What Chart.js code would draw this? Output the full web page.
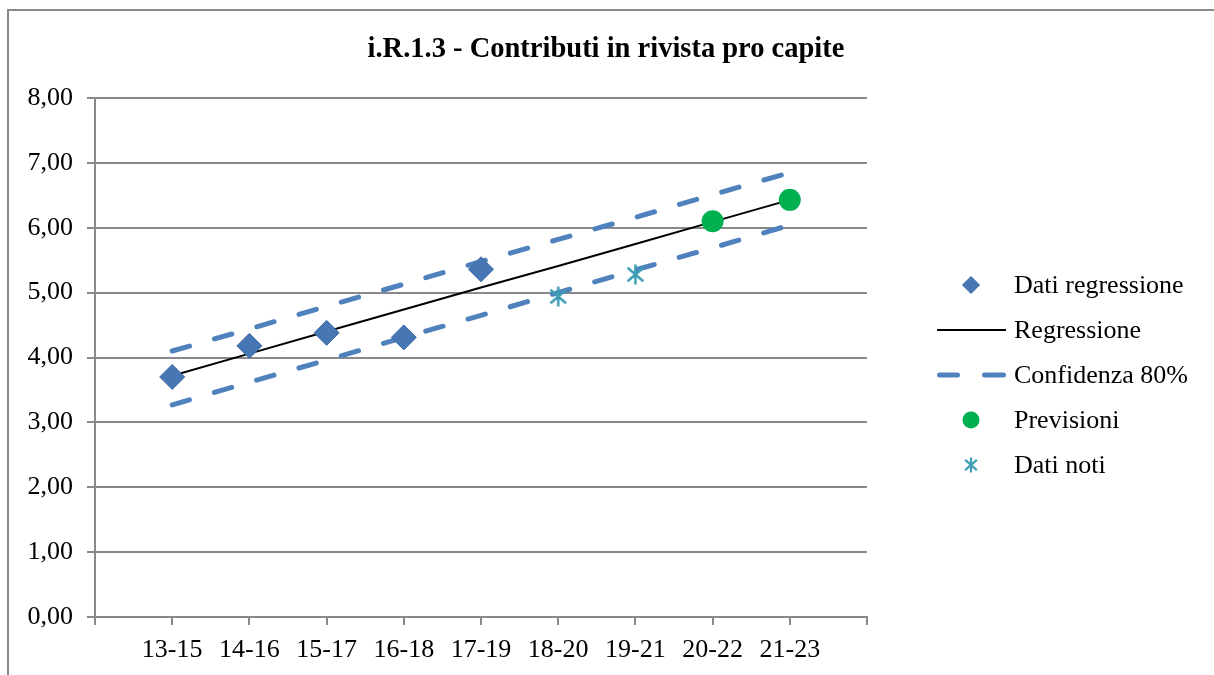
<!DOCTYPE html>
<html>
<head>
<meta charset="utf-8">
<script src="https://cdn.jsdelivr.net/npm/chart.js@4"></script>
<style>
html,body{margin:0;padding:0;background:#fff;overflow:hidden}
canvas{display:block}
</style>
</head>
<body>
<canvas id="c" width="1214" height="675"></canvas>
<script>
// ---- data ----
const categories = ['13-15','14-16','15-17','16-18','17-19','18-20','19-21','20-22','21-23'];
const datiRegressione = [3.70, 4.18, 4.38, 4.31, 5.36, null, null, null, null];
const regressione     = [3.72, 4.06, 4.40, 4.74, 5.08, 5.41, 5.75, 6.09, 6.43];
const confSuperiore   = [4.10, 4.44, 4.79, 5.13, 5.48, 5.82, 6.16, 6.51, 6.85];
const confInferiore   = [3.27, 3.62, 3.96, 4.31, 4.65, 5.00, 5.35, 5.69, 6.04];
const previsioni      = [null, null, null, null, null, null, null, 6.10, 6.43];
const datiNoti        = [null, null, null, null, null, 4.94, 5.28, null, null];
const yMin = 0, yMax = 8, yStep = 1;
const chartTitle = 'i.R.1.3 - Contributi in rivista pro capite';
const legendLabels = ['Dati regressione', 'Regressione', 'Confidenza 80%', 'Previsioni', 'Dati noti'];

// ---- styles ----
const FONT = '"Liberation Serif", "Times New Roman", serif';
const GRID = '#898989';
const C_DIAMOND = '#4677B4', C_DIAMOND_B = '#3F6CA5';
const C_DASH = '#4F81BD';
const C_GREEN = '#00B050';
const C_STAR = '#3E9EB4';

function toXY(arr){ return arr.map((v,i)=> v==null ? null : {x:i+1, y:v}).filter(Boolean); }

function makeAsterisk(r, color, lw){
  const s = Math.ceil(2*r + lw*2);
  const cv = document.createElement('canvas');
  cv.width = s; cv.height = s;
  const g = cv.getContext('2d');
  g.strokeStyle = color; g.lineWidth = lw; g.lineCap = 'butt';
  const c = s/2;
  g.beginPath();
  g.moveTo(c, c-r); g.lineTo(c, c+r);
  const dx = r*0.78, dy = r*0.68;
  g.moveTo(c-dx, c-dy); g.lineTo(c+dx, c+dy);
  g.moveTo(c-dx, c+dy); g.lineTo(c+dx, c-dy);
  g.stroke();
  return cv;
}
const starImg = makeAsterisk(10, C_STAR, 2.5);
const starLegend = makeAsterisk(7.5, C_STAR, 2.2);

const framePlugin = {
  id: 'frame',
  beforeDraw(chart){
    const ctx = chart.ctx;
    ctx.save();
    ctx.fillStyle = '#fff';
    ctx.fillRect(0,0,chart.width,chart.height);
    ctx.strokeStyle = '#8a8a8a';
    ctx.lineWidth = 2;
    ctx.strokeRect(8, 10, 1400, 900);
    ctx.restore();
  },
  afterDraw(chart){
    const ctx = chart.ctx;
    ctx.save();
    // title
    ctx.fillStyle = '#000';
    ctx.font = 'bold 28.5px ' + FONT;
    ctx.textAlign = 'center';
    ctx.textBaseline = 'alphabetic';
    ctx.fillText(chartTitle, 606, 57);
    // legend
    const mx = 971, tx = 1014;
    const ys = [285, 330, 375, 420, 465];
    ctx.font = '26px ' + FONT;
    ctx.textAlign = 'left';
    ctx.textBaseline = 'middle';
    ys.forEach((y,i)=>{ ctx.fillStyle = '#000'; ctx.fillText(legendLabels[i], tx, y+1); });
    // diamond
    let y = ys[0];
    ctx.fillStyle = C_DIAMOND; ctx.strokeStyle = C_DIAMOND_B; ctx.lineWidth = 1;
    ctx.beginPath();
    ctx.moveTo(mx, y-8.5); ctx.lineTo(mx+8.5, y); ctx.lineTo(mx, y+8.5); ctx.lineTo(mx-8.5, y); ctx.closePath();
    ctx.fill(); ctx.stroke();
    // regression line
    y = ys[1];
    ctx.strokeStyle = '#000'; ctx.lineWidth = 2;
    ctx.beginPath(); ctx.moveTo(937, y); ctx.lineTo(1006, y); ctx.stroke();
    // dashed
    y = ys[2];
    ctx.strokeStyle = C_DASH; ctx.lineWidth = 5; ctx.lineCap = 'round';
    ctx.beginPath(); ctx.moveTo(939.5, y); ctx.lineTo(957.5, y); ctx.moveTo(984.5, y); ctx.lineTo(1003.5, y); ctx.stroke();
    // circle
    y = ys[3];
    ctx.fillStyle = C_GREEN;
    ctx.beginPath(); ctx.arc(mx, y, 8.5, 0, Math.PI*2); ctx.fill();
    // star
    y = ys[4];
    ctx.drawImage(starLegend, mx - starLegend.width/2, y - starLegend.height/2);
    ctx.restore();
  }
};

Chart.defaults.font.family = FONT;
Chart.defaults.color = '#000';

const dashCommon = {
  type: 'line', borderColor: C_DASH, borderWidth: 5, borderDash: [18, 26],
  borderCapStyle: 'round', pointRadius: 0, fill: false, tension: 0
};

new Chart(document.getElementById('c'), {
  type: 'line',
  data: {
    datasets: [
      { label: legendLabels[0], type: 'line', data: toXY(datiRegressione), showLine: false,
        pointStyle: 'rectRot', pointRadius: 12.5, pointBackgroundColor: C_DIAMOND,
        pointBorderColor: C_DIAMOND_B, pointBorderWidth: 1, order: 2 },
      { label: legendLabels[1], type: 'line', data: toXY(regressione), borderColor: '#000',
        borderWidth: 2, pointRadius: 0, fill: false, tension: 0, order: 5 },
      Object.assign({ label: legendLabels[2], data: toXY(confSuperiore), order: 6 }, dashCommon),
      Object.assign({ label: legendLabels[2] + ' inf', data: toXY(confInferiore), order: 7 }, dashCommon),
      { label: legendLabels[3], type: 'line', data: toXY(previsioni), showLine: false,
        pointStyle: 'circle', pointRadius: 11, pointBackgroundColor: C_GREEN,
        pointBorderColor: C_GREEN, pointBorderWidth: 0, order: 1 },
      { label: legendLabels[4], type: 'line', data: toXY(datiNoti), showLine: false,
        pointStyle: starImg, pointRadius: 10, order: 0 }
    ]
  },
  options: {
    responsive: false,
    animation: false,
    devicePixelRatio: 1,
    layout: { padding: { top: 98, right: 347, left: 0, bottom: 0 } },
    plugins: { legend: { display: false }, title: { display: false }, tooltip: { enabled: false } },
    events: [],
    scales: {
      x: {
        type: 'linear', min: 0, max: categories.length + 1,
        afterFit(s){ s.height = 58; },
        ticks: { stepSize: 1, autoSkip: false, maxRotation: 0, padding: 10,
          font: { size: 26 }, color: '#000',
          callback: (v) => categories[v-1] !== undefined ? categories[v-1] : '' },
        grid: { drawOnChartArea: false, drawTicks: true, tickLength: 8, color: GRID, lineWidth: 2 },
        border: { display: true, color: GRID, width: 2 }
      },
      y: {
        min: yMin, max: yMax,
        afterFit(s){ s.width = 95; },
        ticks: { stepSize: yStep, padding: 14, font: { size: 26 }, color: '#000',
          callback: (v) => v.toFixed(2).replace('.', ',') },
        grid: { color: GRID, lineWidth: 2, tickLength: 8 },
        border: { display: true, color: GRID, width: 2 }
      }
    }
  },
  plugins: [framePlugin]
});
</script>
</body>
</html>
